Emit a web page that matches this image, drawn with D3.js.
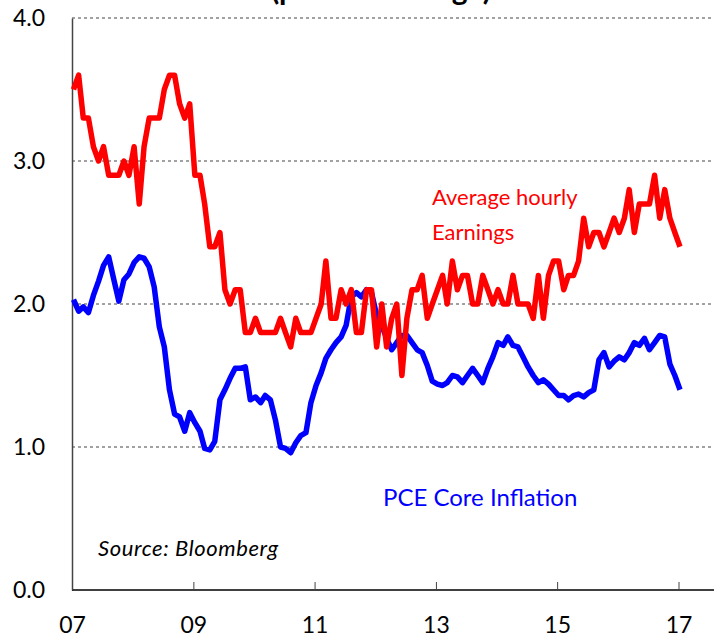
<!DOCTYPE html>
<meta charset="utf-8">
<head>
  <title>Wages and core inflation</title>
  <style>
    body {
      margin: 0;
      background: #fff;
      font-family: Lato, "Open Sans", sans-serif;
    }
    .axis text {
      font-family: Lato, "Open Sans", sans-serif;
      font-size: 23px;
      fill: #000;
    }
    .grid line {
      stroke: #444;
      stroke-width: 1;
      stroke-dasharray: 3,3;
    }
    .series {
      fill: none;
      stroke-width: 5.5;
      stroke-linejoin: round;
    }
  </style>
  <script src="https://d3js.org/d3.v7.min.js"></script>
</head>
<body>
  <svg id="chart" width="714" height="638"></svg>

  <script>
// monthly y/y % change, Jan 2007 .. Jan 2017
var earnings = [
  3.5, 3.6, 3.3, 3.3, 3.1, 3.0, 3.1, 2.9, 2.9, 2.9,
  3.0, 2.9, 3.1, 2.7, 3.1, 3.3, 3.3, 3.3, 3.5, 3.6,
  3.6, 3.4, 3.3, 3.4, 2.9, 2.9, 2.7, 2.4, 2.4, 2.5,
  2.1, 2.0, 2.1, 2.1, 1.8, 1.8, 1.9, 1.8, 1.8, 1.8,
  1.8, 1.9, 1.8, 1.7, 1.9, 1.8, 1.8, 1.8, 1.9, 2.0,
  2.3, 1.9, 1.9, 2.1, 2.0, 2.1, 1.8, 1.8, 2.1, 2.1,
  1.7, 2.0, 1.7, 1.9, 2.0, 1.5, 1.9, 2.1, 2.1, 2.2,
  1.9, 2.0, 2.1, 2.2, 2.0, 2.3, 2.1, 2.2, 2.2, 2.0,
  2.0, 2.2, 2.1, 2.0, 2.1, 2.0, 2.0, 2.2, 2.0, 2.0,
  2.0, 1.9, 2.2, 1.9, 2.2, 2.3, 2.3, 2.1, 2.2, 2.2,
  2.3, 2.6, 2.4, 2.5, 2.5, 2.4, 2.5, 2.6, 2.5, 2.6,
  2.8, 2.5, 2.7, 2.7, 2.7, 2.9, 2.6, 2.8, 2.6, 2.5,
  2.4
];

var pceCore = [
  2.03, 1.95, 1.98, 1.94, 2.06, 2.16, 2.27, 2.33, 2.17, 2.02,
  2.17, 2.21, 2.29, 2.33, 2.32, 2.26, 2.12, 1.84, 1.70, 1.40,
  1.23, 1.21, 1.11, 1.24, 1.17, 1.11, 0.99, 0.98, 1.04, 1.33,
  1.40, 1.48, 1.55, 1.55, 1.56, 1.33, 1.35, 1.31, 1.36, 1.33,
  1.19, 1.00, 0.99, 0.96, 1.03, 1.08, 1.10, 1.31, 1.43, 1.52,
  1.62, 1.68, 1.73, 1.77, 1.85, 2.05, 2.08, 2.05, 2.10, 2.08,
  1.92, 1.85, 1.76, 1.68, 1.73, 1.78, 1.78, 1.73, 1.68, 1.66,
  1.57, 1.46, 1.44, 1.43, 1.45, 1.50, 1.49, 1.45, 1.50, 1.55,
  1.50, 1.45, 1.55, 1.63, 1.73, 1.71, 1.77, 1.71, 1.70, 1.63,
  1.56, 1.50, 1.45, 1.47, 1.44, 1.40, 1.36, 1.36, 1.33, 1.36,
  1.37, 1.35, 1.38, 1.40, 1.61, 1.66, 1.56, 1.60, 1.63, 1.61,
  1.66, 1.73, 1.71, 1.76, 1.68, 1.73, 1.78, 1.77, 1.58, 1.50,
  1.40
];

var yTicks = [0, 1, 2, 3, 4];
var gridValues = [1, 2, 3, 4];
var xTickYears = [2007, 2009, 2011, 2013, 2015, 2017];

var months = earnings.map(function(d, i) { return new Date(2007, i, 10); });

var svg = d3.select('#chart');

var x = d3.scaleTime()
  .domain([new Date(2007, 0, 1), new Date(2017, 0, 1)])
  .range([72, 678.5]);

var y = d3.scaleLinear()
  .domain([0, 4])
  .range([590, 18]);

// title, mostly cut off at the top edge as in the original
svg.append('text')
  .attr('x', 381)
  .attr('y', 0)
  .attr('text-anchor', 'middle')
  .style('font-family', 'Lato, sans-serif')
  .style('font-weight', 'bold')
  .style('font-size', '30px')
  .text('(percent change)');

// dashed gridlines
svg.append('g')
  .attr('class', 'grid')
  .selectAll('line')
  .data(gridValues)
  .enter()
  .append('line')
  .attr('x1', 72)
  .attr('x2', 714)
  .attr('y1', function(d) { return y(d); })
  .attr('y2', function(d) { return y(d); });

// y axis
var yAxis = svg.append('g')
  .attr('class', 'axis')
  .attr('transform', 'translate(72,0)')
  .call(d3.axisLeft(y)
    .tickValues(yTicks)
    .tickFormat(d3.format('.1f'))
    .tickSize(0)
    .tickPadding(27));
yAxis.select('.domain').attr('stroke', '#444').attr('stroke-width', 1.5);

// x axis
var xAxis = svg.append('g')
  .attr('class', 'axis')
  .attr('transform', 'translate(0,590)')
  .call(d3.axisBottom(x)
    .tickValues(xTickYears.map(function(yr) { return new Date(yr, 0, 1); }))
    .tickFormat(d3.timeFormat('%y'))
    .tickSizeInner(-8)
    .tickSizeOuter(0));
xAxis.select('.domain')
  .attr('d', 'M72,0H714')
  .attr('stroke', '#000')
  .attr('stroke-width', 1.5);
xAxis.selectAll('.tick line').attr('stroke', '#444');
xAxis.selectAll('.tick text').attr('y', 27).attr('dy', '0.71em');

var line = d3.line()
  .x(function(d, i) { return x(months[i]); })
  .y(function(d) { return y(d); });

svg.append('path')
  .datum(pceCore)
  .attr('class', 'series')
  .attr('stroke', '#0000ff')
  .attr('d', line);

svg.append('path')
  .datum(earnings)
  .attr('class', 'series')
  .attr('stroke', '#ff0000')
  .attr('d', line);

// labels
var labels = svg.append('g').style('font-family', 'Lato, sans-serif');

labels.append('text')
  .attr('x', 432).attr('y', 205)
  .style('font-size', '22px').attr('fill', '#ff0000')
  .text('Average hourly');
labels.append('text')
  .attr('x', 432).attr('y', 240)
  .style('font-size', '22px').attr('fill', '#ff0000')
  .text('Earnings');

labels.append('text')
  .attr('x', 383).attr('y', 506)
  .style('font-size', '24px').attr('fill', '#0000ff')
  .text('PCE Core Inflation');

labels.append('text')
  .attr('x', 98).attr('y', 556)
  .style('font-size', '22px').style('font-style', 'italic')
  .style('letter-spacing', '0.6px').attr('fill', '#000')
  .text('Source: Bloomberg');
  </script>
</body>
</html>
